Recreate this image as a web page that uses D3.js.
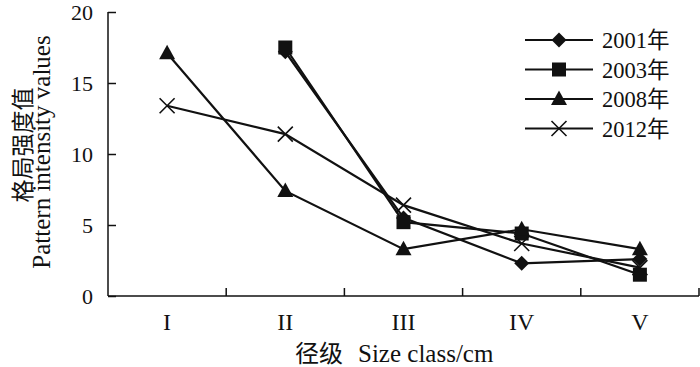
<!DOCTYPE html>
<html><head><meta charset="utf-8">
<script src="https://cdn.jsdelivr.net/npm/d3@7"></script>
<style>body{margin:0;background:#fff}svg{display:block}text{font-family:"Liberation Serif","Noto Sans CJK SC",serif;fill:#111}</style>
</head><body><svg id="c" width="700" height="367"></svg>
<script>
const categories = ["I","II","III","IV","V"];
const yTicks = [0,5,10,15,20];
const s2001 = [null,17.2,5.5,2.3,2.6];
const s2003 = [null,17.5,5.2,4.4,1.5];
const s2008 = [17.1,7.4,3.3,4.7,3.3];
const s2012 = [13.4,11.4,6.4,3.7,2.0];
const seriesNames = ["2001年","2003年","2008年","2012年"];
const seriesData = [s2001,s2003,s2008,s2012];
const markerTypes = ["diamond","square","triangle","cross"];

const svg = d3.select("#c");
const L=108,R=699,T=12,B=296;
const x = d3.scaleBand().domain(categories).range([L,R]);
const y = d3.scaleLinear().domain([0,20]).range([B,T]);
const col="#111";

function marker(g,type,cx,cy){
  if(type==="diamond") g.append("path").attr("d",`M${cx},${cy-7.5}L${cx+7.5},${cy}L${cx},${cy+7.5}L${cx-7.5},${cy}Z`).attr("fill",col);
  else if(type==="square") g.append("rect").attr("x",cx-7).attr("y",cy-7).attr("width",14).attr("height",14).attr("fill",col);
  else if(type==="triangle") g.append("path").attr("d",`M${cx},${cy-8.5}L${cx+8},${cy+6}L${cx-8},${cy+6}Z`).attr("fill",col);
  else g.append("path").attr("d",`M${cx-7.5},${cy-7.5}L${cx+7.5},${cy+7.5}M${cx-7.5},${cy+7.5}L${cx+7.5},${cy-7.5}`).attr("stroke",col).attr("stroke-width",1.6);
}

// axes
const yAxis = d3.axisLeft(y).tickValues(yTicks).tickSize(-8).tickPadding(15).tickFormat(d3.format("d"));
const gy = svg.append("g").attr("transform",`translate(${L},0)`).call(yAxis);
gy.selectAll("text").attr("font-size",22);
const bounds = d3.range(1,categories.length+1).map(i=>L+x.step()*i);
const gx = svg.append("g").attr("transform",`translate(0,${B})`);
gx.append("line").attr("x1",L).attr("x2",R).attr("stroke",col).attr("stroke-width",1.5);
gx.selectAll(".tk").data(bounds).join("line").attr("x1",d=>d).attr("x2",d=>d).attr("y1",0).attr("y2",-8).attr("stroke",col).attr("stroke-width",1.5);
gx.selectAll(".lb").data(categories).join("text").attr("x",d=>x(d)+x.bandwidth()/2).attr("y",34).attr("text-anchor","middle").attr("font-size",24).text(d=>d);
svg.selectAll(".domain").attr("stroke",col).attr("stroke-width",1.5);
gy.selectAll(".tick line").attr("stroke",col).attr("stroke-width",1.5);
gy.selectAll(".domain").attr("d",`M0,${B}V${T}`);

// titles
svg.append("text").attr("x",295).attr("y",362).attr("font-size",24).text("径级");
svg.append("text").attr("x",358).attr("y",362).attr("font-size",25).text("Size class/cm");
svg.append("text").attr("transform","translate(31,145) rotate(-90)").attr("text-anchor","middle").attr("font-size",23).text("格局强度值");
svg.append("text").attr("transform","translate(50,152) rotate(-90)").attr("text-anchor","middle").attr("font-size",25).text("Pattern intensity values");

// series
const line = d3.line().defined(d=>d.v!==null).x(d=>x(d.c)+x.bandwidth()/2).y(d=>y(d.v));
seriesData.forEach((s,i)=>{
  const pts = categories.map((c,j)=>({c,v:s[j]}));
  svg.append("path").datum(pts).attr("d",line).attr("fill","none").attr("stroke",col).attr("stroke-width",2.2);
  const g=svg.append("g");
  pts.filter(p=>p.v!==null).forEach(p=>marker(g,markerTypes[i],x(p.c)+x.bandwidth()/2,y(p.v)));
});

// legend
const legY=[40,69.5,99,128.5];
seriesNames.forEach((n,i)=>{
  const g=svg.append("g");
  g.append("line").attr("x1",525).attr("x2",593).attr("y1",legY[i]).attr("y2",legY[i]).attr("stroke",col).attr("stroke-width",2.2);
  marker(g,markerTypes[i],559,legY[i]);
  g.append("text").attr("x",602).attr("y",legY[i]+8).attr("font-size",22.5).text(n);
});
</script></body></html>
